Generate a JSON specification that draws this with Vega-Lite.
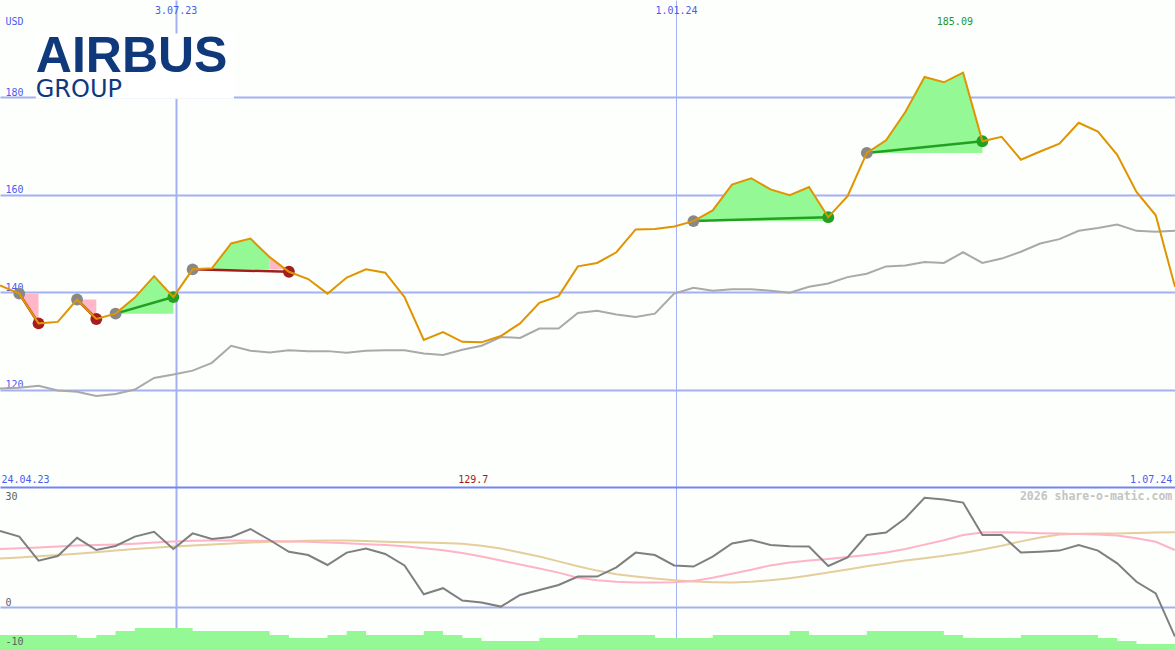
{
  "$schema": "https://vega.github.io/schema/vega-lite/v6.json",
  "background": "#fcfffc",
  "padding": 0,
  "spacing": 0,
  "bounds": "flush",
  "config": {
    "view": {"stroke": null},
    "axis": {"domain": false, "ticks": false, "labelFont": "DejaVu Sans Mono", "labelFontSize": 10, "gridColor": "#a3b0f2", "gridWidth": 2, "gridOpacity": 1},
    "text": {"font": "DejaVu Sans Mono", "fontSize": 10}
  },
  "datasets": {
    "weekly": [
      {"date": "2023-05-01", "close": 141.4, "bench": 120.2, "osc": 19.0, "pink": 14.5, "tan": 12.1, "vol": -7.0},
      {"date": "2023-05-08", "close": 139.7, "bench": 120.4, "osc": 17.6, "pink": 14.7, "tan": 12.4, "vol": -7.0},
      {"date": "2023-05-15", "close": 133.6, "bench": 120.8, "osc": 11.6, "pink": 14.9, "tan": 12.7, "vol": -7.0},
      {"date": "2023-05-22", "close": 133.9, "bench": 119.8, "osc": 12.75, "pink": 15.1, "tan": 13.0, "vol": -7.0},
      {"date": "2023-05-29", "close": 138.5, "bench": 119.55, "osc": 17.3, "pink": 15.35, "tan": 13.3, "vol": -7.75},
      {"date": "2023-06-05", "close": 134.5, "bench": 118.7, "osc": 14.25, "pink": 15.5, "tan": 13.7, "vol": -7.0},
      {"date": "2023-06-12", "close": 135.6, "bench": 119.1, "osc": 15.25, "pink": 15.6, "tan": 14.1, "vol": -6.0},
      {"date": "2023-06-19", "close": 138.9, "bench": 120.0, "osc": 17.6, "pink": 15.8, "tan": 14.5, "vol": -5.25},
      {"date": "2023-06-26", "close": 143.3, "bench": 122.4, "osc": 18.8, "pink": 16.1, "tan": 14.8, "vol": -5.25},
      {"date": "2023-07-03", "close": 139.0, "bench": 123.1, "osc": 14.5, "pink": 16.35, "tan": 15.1, "vol": -5.25},
      {"date": "2023-07-10", "close": 144.7, "bench": 123.9, "osc": 18.4, "pink": 16.55, "tan": 15.4, "vol": -6.0},
      {"date": "2023-07-17", "close": 144.9, "bench": 125.5, "osc": 17.0, "pink": 16.6, "tan": 15.6, "vol": -6.0},
      {"date": "2023-07-24", "close": 150.0, "bench": 129.0, "osc": 17.5, "pink": 16.6, "tan": 15.85, "vol": -6.0},
      {"date": "2023-07-31", "close": 151.0, "bench": 128.0, "osc": 19.5, "pink": 16.55, "tan": 16.1, "vol": -6.0},
      {"date": "2023-08-07", "close": 147.2, "bench": 127.6, "osc": 16.75, "pink": 16.5, "tan": 16.3, "vol": -7.0},
      {"date": "2023-08-14", "close": 144.2, "bench": 128.1, "osc": 13.8, "pink": 16.4, "tan": 16.4, "vol": -7.75},
      {"date": "2023-08-21", "close": 142.7, "bench": 127.9, "osc": 13.0, "pink": 16.3, "tan": 16.55, "vol": -7.75},
      {"date": "2023-08-28", "close": 139.7, "bench": 127.9, "osc": 10.5, "pink": 16.15, "tan": 16.6, "vol": -7.0},
      {"date": "2023-09-04", "close": 143.0, "bench": 127.55, "osc": 13.6, "pink": 15.95, "tan": 16.6, "vol": -6.0},
      {"date": "2023-09-11", "close": 144.7, "bench": 128.0, "osc": 14.6, "pink": 15.7, "tan": 16.5, "vol": -7.0},
      {"date": "2023-09-18", "close": 144.0, "bench": 128.1, "osc": 13.25, "pink": 15.5, "tan": 16.3, "vol": -7.0},
      {"date": "2023-09-25", "close": 139.0, "bench": 128.1, "osc": 10.4, "pink": 15.2, "tan": 16.2, "vol": -7.0},
      {"date": "2023-10-02", "close": 130.2, "bench": 127.4, "osc": 3.2, "pink": 14.7, "tan": 16.1, "vol": -6.0},
      {"date": "2023-10-09", "close": 131.8, "bench": 127.1, "osc": 4.7, "pink": 14.2, "tan": 16.0, "vol": -7.0},
      {"date": "2023-10-16", "close": 129.8, "bench": 128.2, "osc": 1.6, "pink": 13.5, "tan": 15.8, "vol": -7.75},
      {"date": "2023-10-23", "close": 129.7, "bench": 129.0, "osc": 1.1, "pink": 12.6, "tan": 15.3, "vol": -8.5},
      {"date": "2023-10-30", "close": 131.0, "bench": 130.8, "osc": 0.1, "pink": 11.6, "tan": 14.6, "vol": -8.5},
      {"date": "2023-11-06", "close": 133.6, "bench": 130.6, "osc": 3.0, "pink": 10.6, "tan": 13.6, "vol": -8.5},
      {"date": "2023-11-13", "close": 137.8, "bench": 132.55, "osc": 4.25, "pink": 9.6, "tan": 12.6, "vol": -7.75},
      {"date": "2023-11-20", "close": 139.2, "bench": 132.55, "osc": 5.5, "pink": 8.6, "tan": 11.4, "vol": -7.75},
      {"date": "2023-11-27", "close": 145.3, "bench": 135.75, "osc": 7.6, "pink": 7.3, "tan": 10.2, "vol": -7.0},
      {"date": "2023-12-04", "close": 146.0, "bench": 136.2, "osc": 7.6, "pink": 6.7, "tan": 9.1, "vol": -7.0},
      {"date": "2023-12-11", "close": 148.2, "bench": 135.4, "osc": 9.9, "pink": 6.3, "tan": 8.2, "vol": -7.0},
      {"date": "2023-12-18", "close": 152.9, "bench": 134.9, "osc": 13.6, "pink": 6.1, "tan": 7.6, "vol": -7.0},
      {"date": "2023-12-25", "close": 153.0, "bench": 135.6, "osc": 13.0, "pink": 6.1, "tan": 7.1, "vol": -7.75},
      {"date": "2024-01-01", "close": 153.5, "bench": 139.7, "osc": 10.4, "pink": 6.2, "tan": 6.7, "vol": -7.75},
      {"date": "2024-01-08", "close": 154.6, "bench": 140.9, "osc": 10.1, "pink": 6.5, "tan": 6.4, "vol": -7.75},
      {"date": "2024-01-15", "close": 156.8, "bench": 140.3, "osc": 12.6, "pink": 7.3, "tan": 6.2, "vol": -7.0},
      {"date": "2024-01-22", "close": 162.1, "bench": 140.6, "osc": 15.9, "pink": 8.3, "tan": 6.1, "vol": -7.0},
      {"date": "2024-01-29", "close": 163.4, "bench": 140.6, "osc": 16.75, "pink": 9.3, "tan": 6.3, "vol": -7.0},
      {"date": "2024-02-05", "close": 161.1, "bench": 140.3, "osc": 15.5, "pink": 10.4, "tan": 6.7, "vol": -7.0},
      {"date": "2024-02-12", "close": 159.9, "bench": 139.9, "osc": 15.2, "pink": 11.1, "tan": 7.2, "vol": -6.0},
      {"date": "2024-02-19", "close": 161.6, "bench": 141.1, "osc": 15.1, "pink": 11.6, "tan": 7.9, "vol": -7.0},
      {"date": "2024-02-26", "close": 155.4, "bench": 141.8, "osc": 10.25, "pink": 12.0, "tan": 8.6, "vol": -7.0},
      {"date": "2024-03-04", "close": 159.7, "bench": 143.1, "osc": 12.4, "pink": 12.5, "tan": 9.4, "vol": -7.0},
      {"date": "2024-03-11", "close": 168.6, "bench": 143.8, "osc": 18.0, "pink": 13.0, "tan": 10.2, "vol": -6.0},
      {"date": "2024-03-18", "close": 171.2, "bench": 145.3, "osc": 18.6, "pink": 13.6, "tan": 10.9, "vol": -6.0},
      {"date": "2024-03-25", "close": 177.0, "bench": 145.5, "osc": 22.2, "pink": 14.5, "tan": 11.6, "vol": -6.0},
      {"date": "2024-04-01", "close": 184.2, "bench": 146.2, "osc": 27.3, "pink": 15.6, "tan": 12.2, "vol": -6.0},
      {"date": "2024-04-08", "close": 183.1, "bench": 146.0, "osc": 26.9, "pink": 16.7, "tan": 12.8, "vol": -7.0},
      {"date": "2024-04-15", "close": 185.09, "bench": 148.2, "osc": 26.1, "pink": 18.0, "tan": 13.5, "vol": -7.75},
      {"date": "2024-04-22", "close": 171.0, "bench": 146.0, "osc": 18.0, "pink": 18.6, "tan": 14.4, "vol": -7.75},
      {"date": "2024-04-29", "close": 171.9, "bench": 146.9, "osc": 18.0, "pink": 18.7, "tan": 15.3, "vol": -7.75},
      {"date": "2024-05-06", "close": 167.2, "bench": 148.3, "osc": 13.6, "pink": 18.6, "tan": 16.4, "vol": -7.0},
      {"date": "2024-05-13", "close": 168.9, "bench": 150.0, "osc": 13.8, "pink": 18.45, "tan": 17.4, "vol": -7.0},
      {"date": "2024-05-20", "close": 170.5, "bench": 150.9, "osc": 14.1, "pink": 18.35, "tan": 18.1, "vol": -7.0},
      {"date": "2024-05-27", "close": 174.8, "bench": 152.6, "osc": 15.5, "pink": 18.25, "tan": 18.3, "vol": -7.0},
      {"date": "2024-06-03", "close": 173.0, "bench": 153.2, "osc": 14.1, "pink": 18.1, "tan": 18.4, "vol": -7.75},
      {"date": "2024-06-10", "close": 168.2, "bench": 153.9, "osc": 10.9, "pink": 17.9, "tan": 18.4, "vol": -8.5},
      {"date": "2024-06-17", "close": 160.6, "bench": 152.6, "osc": 6.3, "pink": 17.2, "tan": 18.5, "vol": -9.25},
      {"date": "2024-06-24", "close": 155.8, "bench": 152.4, "osc": 3.4, "pink": 16.3, "tan": 18.6, "vol": -9.25},
      {"date": "2024-07-01", "close": 141.1, "bench": 152.6, "osc": -7.4, "pink": 14.25, "tan": 18.7, "vol": -9.25}
    ],
    "fills": [
      {"seg": "F1", "tone": "loss", "date": "2023-05-08", "price": 139.7, "base": 139.7},
      {"seg": "F1", "tone": "loss", "date": "2023-05-15", "price": 133.6, "base": 139.7},
      {"seg": "F2", "tone": "loss", "date": "2023-05-29", "price": 138.5, "base": 138.5},
      {"seg": "F2", "tone": "loss", "date": "2023-06-05", "price": 134.5, "base": 138.5},
      {"seg": "F3", "tone": "gain", "date": "2023-06-12", "price": 135.6, "base": 135.6},
      {"seg": "F3", "tone": "gain", "date": "2023-06-19", "price": 138.9, "base": 135.6},
      {"seg": "F3", "tone": "gain", "date": "2023-06-26", "price": 143.3, "base": 135.6},
      {"seg": "F3", "tone": "gain", "date": "2023-07-03", "price": 139.0, "base": 135.6},
      {"seg": "F4", "tone": "gain", "date": "2023-07-10", "price": 144.7, "base": 144.7},
      {"seg": "F4", "tone": "gain", "date": "2023-07-17", "price": 144.9, "base": 144.7},
      {"seg": "F4", "tone": "gain", "date": "2023-07-24", "price": 150.0, "base": 144.7},
      {"seg": "F4", "tone": "gain", "date": "2023-07-31", "price": 151.0, "base": 144.7},
      {"seg": "F4", "tone": "gain", "date": "2023-08-07", "price": 147.2, "base": 144.7},
      {"seg": "F4b", "tone": "loss", "date": "2023-08-07", "price": 147.2, "base": 144.7},
      {"seg": "F4b", "tone": "loss", "date": "2023-08-14", "price": 144.2, "base": 144.7},
      {"seg": "F5", "tone": "gain", "date": "2024-01-08", "price": 154.6, "base": 154.6},
      {"seg": "F5", "tone": "gain", "date": "2024-01-15", "price": 156.8, "base": 154.6},
      {"seg": "F5", "tone": "gain", "date": "2024-01-22", "price": 162.1, "base": 154.6},
      {"seg": "F5", "tone": "gain", "date": "2024-01-29", "price": 163.4, "base": 154.6},
      {"seg": "F5", "tone": "gain", "date": "2024-02-05", "price": 161.1, "base": 154.6},
      {"seg": "F5", "tone": "gain", "date": "2024-02-12", "price": 159.9, "base": 154.6},
      {"seg": "F5", "tone": "gain", "date": "2024-02-19", "price": 161.6, "base": 154.6},
      {"seg": "F5", "tone": "gain", "date": "2024-02-26", "price": 155.4, "base": 154.6},
      {"seg": "F6", "tone": "gain", "date": "2024-03-11", "price": 168.6, "base": 168.6},
      {"seg": "F6", "tone": "gain", "date": "2024-03-18", "price": 171.2, "base": 168.6},
      {"seg": "F6", "tone": "gain", "date": "2024-03-25", "price": 177.0, "base": 168.6},
      {"seg": "F6", "tone": "gain", "date": "2024-04-01", "price": 184.2, "base": 168.6},
      {"seg": "F6", "tone": "gain", "date": "2024-04-08", "price": 183.1, "base": 168.6},
      {"seg": "F6", "tone": "gain", "date": "2024-04-15", "price": 185.09, "base": 168.6},
      {"seg": "F6", "tone": "gain", "date": "2024-04-22", "price": 171.0, "base": 168.6}
    ],
    "trades": [
      {"trade": "T1", "result": "loss", "marker": "entry", "date": "2023-05-08", "price": 139.7},
      {"trade": "T1", "result": "loss", "marker": "loss", "date": "2023-05-15", "price": 133.6},
      {"trade": "T2", "result": "loss", "marker": "entry", "date": "2023-05-29", "price": 138.5},
      {"trade": "T2", "result": "loss", "marker": "loss", "date": "2023-06-05", "price": 134.5},
      {"trade": "T3", "result": "win", "marker": "entry", "date": "2023-06-12", "price": 135.6},
      {"trade": "T3", "result": "win", "marker": "win", "date": "2023-07-03", "price": 139.0},
      {"trade": "T4", "result": "loss", "marker": "entry", "date": "2023-07-10", "price": 144.7},
      {"trade": "T4", "result": "loss", "marker": "loss", "date": "2023-08-14", "price": 144.2},
      {"trade": "T5", "result": "win", "marker": "entry", "date": "2024-01-08", "price": 154.6},
      {"trade": "T5", "result": "win", "marker": "win", "date": "2024-02-26", "price": 155.4},
      {"trade": "T6", "result": "win", "marker": "entry", "date": "2024-03-11", "price": 168.6},
      {"trade": "T6", "result": "win", "marker": "win", "date": "2024-04-22", "price": 171.0}
    ],
    "logobox": [
      {"date": "2023-05-14", "date2": "2023-07-25", "top": 193.1, "bottom": 179.7}
    ],
    "logo": [
      {"part": "name", "date": "2023-05-14", "value": 185.3, "label": "AIRBUS"},
      {"part": "sub", "date": "2023-05-14", "value": 180.1, "label": "GROUP"}
    ],
    "notes": [
      {"panel": "up", "pos": "center", "tone": "max", "date": "2024-04-12", "value": 194.8, "label": "185.09"},
      {"panel": "up", "pos": "center", "tone": "min", "date": "2023-10-20", "value": 100.9, "label": "129.7"},
      {"panel": "up", "pos": "left", "tone": "axis", "date": "2023-05-01T12:00:00Z", "value": 100.9, "label": "24.04.23"},
      {"panel": "up", "pos": "right", "tone": "axis", "date": "2024-06-30", "value": 100.9, "label": "1.07.24"},
      {"panel": "up", "pos": "left", "tone": "axis", "date": "2023-05-03", "value": 194.8, "label": "USD"},
      {"panel": "lo", "pos": "left", "tone": "axis2", "date": "2023-05-03", "value": 26.75, "label": "30"},
      {"panel": "lo", "pos": "left", "tone": "axis2", "date": "2023-05-03", "value": -9.5, "label": "-10"},
      {"panel": "lo", "pos": "right", "tone": "credit", "date": "2024-06-30", "value": 26.75, "label": "2026 share-o-matic.com"}
    ]
  },
  "vconcat": [
    {
      "width": 1175,
      "height": 487,
      "resolve": {"scale": {"color": "independent"}},
      "encoding": {
        "x": {
          "field": "date", "type": "temporal",
          "scale": {"type": "utc", "nice": false, "domain": [{"year": 2023, "month": 5, "date": 1, "utc": true}, {"year": 2024, "month": 7, "date": 1, "utc": true}]},
          "axis": {
            "orient": "top", "title": null,
            "values": [{"year": 2023, "month": 7, "date": 3, "hours": 20, "utc": true}, {"year": 2024, "month": 1, "date": 1, "hours": 16, "utc": true}],
            "labelExpr": "utcFormat(datum.value, '%-d.%m.%y')",
            "labelColor": "#4a5cf0", "labelPadding": -13.5, "labelBaseline": "alphabetic",
            "grid": true,
            "gridWidth": {"condition": {"test": "utcmonth(datum.value) == 6", "value": 2}, "value": 1}
          }
        }
      },
      "layer": [
        {
          "data": {"name": "logobox"},
          "mark": {"type": "rect", "color": "#ffffff"},
          "encoding": {
            "x2": {"field": "date2"},
            "y": {"field": "top", "type": "quantitative", "scale": {"domain": [100, 200], "nice": false, "zero": false},
              "axis": {"title": null, "values": [120, 140, 160, 180], "grid": true, "labelAlign": "left", "labelPadding": -5, "labelBaseline": "alphabetic", "labelOffset": -2, "labelColor": "#4a5cf0"}},
            "y2": {"field": "bottom"}
          }
        },
        {
          "data": {"name": "fills"},
          "mark": {"type": "area", "opacity": 1, "clip": true},
          "encoding": {
            "y": {"field": "price", "type": "quantitative", "scale": {"domain": [100, 200], "nice": false, "zero": false},
              "axis": {"title": null, "values": [120, 140, 160, 180], "grid": true, "labelAlign": "left", "labelPadding": -5, "labelBaseline": "alphabetic", "labelOffset": -2, "labelColor": "#4a5cf0"}},
            "y2": {"field": "base"},
            "detail": {"field": "seg"},
            "color": {"field": "tone", "type": "nominal", "scale": {"domain": ["gain", "loss"], "range": ["#94f894", "#ffb6c8"]}, "legend": null}
          }
        },
        {
          "data": {"name": "weekly"},
          "mark": {"type": "line", "color": "#a9a9a9", "strokeWidth": 2, "clip": true},
          "encoding": {
            "y": {"field": "bench", "type": "quantitative", "scale": {"domain": [100, 200], "nice": false, "zero": false},
              "axis": {"title": null, "values": [120, 140, 160, 180], "grid": true, "labelAlign": "left", "labelPadding": -5, "labelBaseline": "alphabetic", "labelOffset": -2, "labelColor": "#4a5cf0"}}
          }
        },
        {
          "data": {"name": "trades"},
          "mark": {"type": "line", "strokeWidth": 2.5, "clip": true},
          "encoding": {
            "y": {"field": "price", "type": "quantitative", "scale": {"domain": [100, 200], "nice": false, "zero": false},
              "axis": {"title": null, "values": [120, 140, 160, 180], "grid": true, "labelAlign": "left", "labelPadding": -5, "labelBaseline": "alphabetic", "labelOffset": -2, "labelColor": "#4a5cf0"}},
            "detail": {"field": "trade"},
            "color": {"field": "result", "type": "nominal", "scale": {"domain": ["win", "loss"], "range": ["#22a022", "#a41c1c"]}, "legend": null}
          }
        },
        {
          "data": {"name": "trades"},
          "mark": {"type": "point", "filled": true, "opacity": 1, "size": 140},
          "encoding": {
            "y": {"field": "price", "type": "quantitative", "scale": {"domain": [100, 200], "nice": false, "zero": false},
              "axis": {"title": null, "values": [120, 140, 160, 180], "grid": true, "labelAlign": "left", "labelPadding": -5, "labelBaseline": "alphabetic", "labelOffset": -2, "labelColor": "#4a5cf0"}},
            "color": {"field": "marker", "type": "nominal", "scale": {"domain": ["entry", "win", "loss"], "range": ["#888888", "#22a022", "#a51d1d"]}, "legend": null}
          }
        },
        {
          "data": {"name": "weekly"},
          "mark": {"type": "line", "color": "#e09400", "strokeWidth": 2, "clip": true},
          "encoding": {
            "y": {"field": "close", "type": "quantitative", "scale": {"domain": [100, 200], "nice": false, "zero": false},
              "axis": {"title": null, "values": [120, 140, 160, 180], "grid": true, "labelAlign": "left", "labelPadding": -5, "labelBaseline": "alphabetic", "labelOffset": -2, "labelColor": "#4a5cf0"}}
          }
        },
        {
          "data": {"name": "logo"},
          "transform": [{"filter": "datum.part == 'name'"}],
          "mark": {"type": "text", "align": "left", "baseline": "alphabetic", "font": "Liberation Sans", "fontWeight": "bold", "fontSize": 50, "color": "#10397c"},
          "encoding": {
            "y": {"field": "value", "type": "quantitative", "scale": {"domain": [100, 200], "nice": false, "zero": false},
              "axis": {"title": null, "values": [120, 140, 160, 180], "grid": true, "labelAlign": "left", "labelPadding": -5, "labelBaseline": "alphabetic", "labelOffset": -2, "labelColor": "#4a5cf0"}},
            "text": {"field": "label"}
          }
        },
        {
          "data": {"name": "logo"},
          "transform": [{"filter": "datum.part == 'sub'"}],
          "mark": {"type": "text", "align": "left", "baseline": "alphabetic", "font": "DejaVu Sans", "fontSize": 24, "color": "#10397c"},
          "encoding": {
            "y": {"field": "value", "type": "quantitative", "scale": {"domain": [100, 200], "nice": false, "zero": false},
              "axis": {"title": null, "values": [120, 140, 160, 180], "grid": true, "labelAlign": "left", "labelPadding": -5, "labelBaseline": "alphabetic", "labelOffset": -2, "labelColor": "#4a5cf0"}},
            "text": {"field": "label"}
          }
        },
        {
          "data": {"name": "notes"},
          "transform": [{"filter": "datum.panel == 'up' && datum.pos == 'center'"}],
          "mark": {"type": "text", "align": "center", "baseline": "alphabetic"},
          "encoding": {
            "y": {"field": "value", "type": "quantitative", "scale": {"domain": [100, 200], "nice": false, "zero": false},
              "axis": {"title": null, "values": [120, 140, 160, 180], "grid": true, "labelAlign": "left", "labelPadding": -5, "labelBaseline": "alphabetic", "labelOffset": -2, "labelColor": "#4a5cf0"}},
            "text": {"field": "label"},
            "color": {"field": "tone", "type": "nominal", "scale": {"domain": ["max", "min", "axis"], "range": ["#22962a", "#a01c1c", "#4a5cf0"]}, "legend": null}
          }
        },
        {
          "data": {"name": "notes"},
          "transform": [{"filter": "datum.panel == 'up' && datum.pos == 'left'"}],
          "mark": {"type": "text", "align": "left", "baseline": "alphabetic", "color": "#4a5cf0"},
          "encoding": {
            "y": {"field": "value", "type": "quantitative", "scale": {"domain": [100, 200], "nice": false, "zero": false},
              "axis": {"title": null, "values": [120, 140, 160, 180], "grid": true, "labelAlign": "left", "labelPadding": -5, "labelBaseline": "alphabetic", "labelOffset": -2, "labelColor": "#4a5cf0"}},
            "text": {"field": "label"}
          }
        },
        {
          "data": {"name": "notes"},
          "transform": [{"filter": "datum.panel == 'up' && datum.pos == 'right'"}],
          "mark": {"type": "text", "align": "right", "baseline": "alphabetic", "color": "#4a5cf0"},
          "encoding": {
            "y": {"field": "value", "type": "quantitative", "scale": {"domain": [100, 200], "nice": false, "zero": false},
              "axis": {"title": null, "values": [120, 140, 160, 180], "grid": true, "labelAlign": "left", "labelPadding": -5, "labelBaseline": "alphabetic", "labelOffset": -2, "labelColor": "#4a5cf0"}},
            "text": {"field": "label"}
          }
        }
      ]
    },
    {
      "width": 1175,
      "height": 163,
      "encoding": {
        "x": {
          "field": "date", "type": "temporal",
          "scale": {"type": "utc", "nice": false, "domain": [{"year": 2023, "month": 5, "date": 1, "utc": true}, {"year": 2024, "month": 7, "date": 1, "utc": true}]},
          "axis": {
            "orient": "top", "title": null, "labels": false,
            "values": [{"year": 2023, "month": 7, "date": 3, "hours": 20, "utc": true}, {"year": 2024, "month": 1, "date": 1, "hours": 16, "utc": true}],
            "domain": true, "domainColor": "#7585f0", "domainWidth": 2,
            "grid": true,
            "gridWidth": {"condition": {"test": "utcmonth(datum.value) == 6", "value": 2}, "value": 1}
          }
        }
      },
      "layer": [
        {
          "data": {"name": "weekly"},
          "mark": {"type": "area", "interpolate": "step-after", "color": "#94f894", "opacity": 1, "clip": true},
          "encoding": {
            "y": {"field": "vol", "type": "quantitative", "scale": {"domain": [-10.75, 30], "nice": false, "zero": false},
              "axis": {"title": null, "values": [0], "grid": true, "labelAlign": "left", "labelPadding": -5, "labelBaseline": "alphabetic", "labelOffset": -1.5, "labelColor": "#606060"}},
            "y2": {"datum": -10.75}
          }
        },
        {
          "data": {"name": "weekly"},
          "mark": {"type": "line", "color": "#e6cd9c", "strokeWidth": 2, "clip": true},
          "encoding": {
            "y": {"field": "tan", "type": "quantitative", "scale": {"domain": [-10.75, 30], "nice": false, "zero": false},
              "axis": {"title": null, "values": [0], "grid": true, "labelAlign": "left", "labelPadding": -5, "labelBaseline": "alphabetic", "labelOffset": -1.5, "labelColor": "#606060"}}
          }
        },
        {
          "data": {"name": "weekly"},
          "mark": {"type": "line", "color": "#ffb3c6", "strokeWidth": 2, "clip": true},
          "encoding": {
            "y": {"field": "pink", "type": "quantitative", "scale": {"domain": [-10.75, 30], "nice": false, "zero": false},
              "axis": {"title": null, "values": [0], "grid": true, "labelAlign": "left", "labelPadding": -5, "labelBaseline": "alphabetic", "labelOffset": -1.5, "labelColor": "#606060"}}
          }
        },
        {
          "data": {"name": "weekly"},
          "mark": {"type": "line", "color": "#7f7f7f", "strokeWidth": 2, "clip": true},
          "encoding": {
            "y": {"field": "osc", "type": "quantitative", "scale": {"domain": [-10.75, 30], "nice": false, "zero": false},
              "axis": {"title": null, "values": [0], "grid": true, "labelAlign": "left", "labelPadding": -5, "labelBaseline": "alphabetic", "labelOffset": -1.5, "labelColor": "#606060"}}
          }
        },
        {
          "data": {"name": "notes"},
          "transform": [{"filter": "datum.panel == 'lo' && datum.pos == 'left'"}],
          "mark": {"type": "text", "align": "left", "baseline": "alphabetic", "color": "#606060"},
          "encoding": {
            "y": {"field": "value", "type": "quantitative", "scale": {"domain": [-10.75, 30], "nice": false, "zero": false},
              "axis": {"title": null, "values": [0], "grid": true, "labelAlign": "left", "labelPadding": -5, "labelBaseline": "alphabetic", "labelOffset": -1.5, "labelColor": "#606060"}},
            "text": {"field": "label"}
          }
        },
        {
          "data": {"name": "notes"},
          "transform": [{"filter": "datum.panel == 'lo' && datum.pos == 'right'"}],
          "mark": {"type": "text", "align": "right", "baseline": "alphabetic", "color": "#c4c4c4", "fontWeight": "bold", "fontSize": 11.5},
          "encoding": {
            "y": {"field": "value", "type": "quantitative", "scale": {"domain": [-10.75, 30], "nice": false, "zero": false},
              "axis": {"title": null, "values": [0], "grid": true, "labelAlign": "left", "labelPadding": -5, "labelBaseline": "alphabetic", "labelOffset": -1.5, "labelColor": "#606060"}},
            "text": {"field": "label"}
          }
        }
      ]
    }
  ]
}
